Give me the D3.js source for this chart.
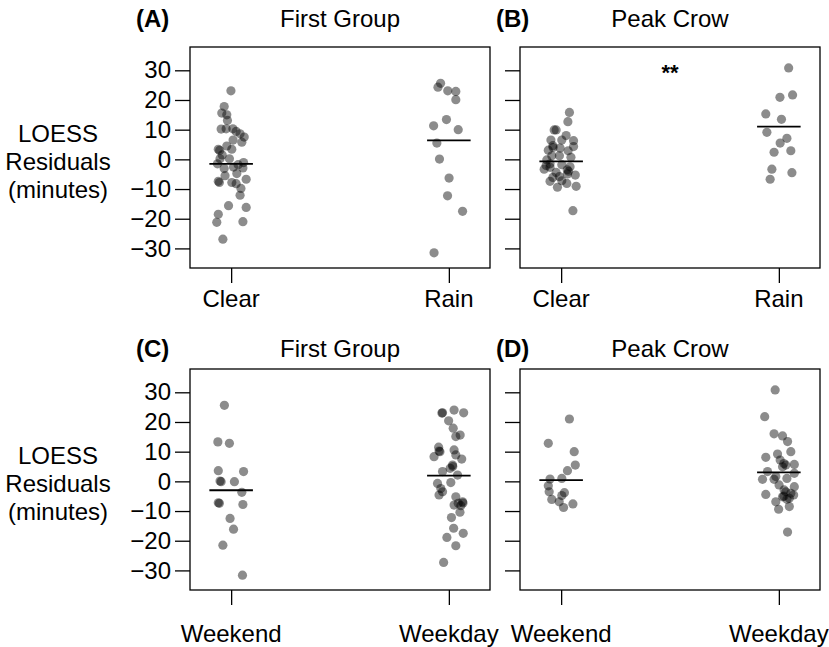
<!DOCTYPE html>
<html><head><meta charset="utf-8">
<script src="https://cdn.jsdelivr.net/npm/d3@7"></script>
<style>body{margin:0;background:#fff}svg{display:block}text{font-family:"Liberation Sans",Arial,Helvetica,sans-serif;fill:#000}</style>
</head><body><svg id="c" width="829" height="647"></svg>
<script>
// ---------- data ----------
const weatherCats = ["Clear", "Rain"];
const dayCats = ["Weekend", "Weekday"];
const yTicks = [-30, -20, -10, 0, 10, 20, 30];
const yLimits = [-36.6, 37.85];
const xLimits = [0.811, 2.189];
const panelLetters = ["(A)", "(B)", "(C)", "(D)"];
const panelTitles = ["First Group", "Peak Crow", "First Group", "Peak Crow"];
const yAxisLabel = ["LOESS", "Residuals", "(minutes)"];
const sigMarks = ["", "**", "", ""];

// Panel A: First Group by weather
const aClearVals = [23.1,17.8,15.6,15.0,13.1,10.3,10.3,9.4,8.6,7.5,5.8,3.4,4.5,3.4,0.2,0.2,-1.5,-3.1,-2.6,-1.1,-2.9,-4.8,-6.7,-7.4,-7.8,-7.8,-8.2,-9.8,-12.1,-15.6,-16.2,-18.5,-21.2,-21.0,-26.9,1.5,-1.8,6.5,-5.5,10.2,3.0];
const aClearJit  = [-0.001,-0.032,-0.043,-0.020,-0.017,-0.023,0.008,0.023,0.041,0.060,0.049,-0.059,-0.020,0.003,-0.051,-0.008,-0.063,-0.032,0.011,0.057,0.054,0.026,0.069,-0.059,-0.054,0.003,0.023,0.045,0.041,-0.012,0.069,-0.059,-0.066,0.054,-0.038,-0.041,0.032,0.009,-0.028,-0.046,-0.053];
const aRainVals = [25.6,24.3,23.1,22.9,20.1,13.4,11.3,10.0,5.5,0.1,-6.3,-12.3,-17.5,-31.5];
const aRainJit  = [-0.038,-0.050,-0.005,0.032,0.032,-0.011,-0.070,0.043,-0.055,-0.043,0.001,-0.006,0.063,-0.068];
// Panel B: Peak Crow by weather
const bClearVals = [15.8,12.7,9.9,9.9,8.0,6.5,6.5,6.3,4.6,4.3,3.8,3.1,2.9,1.2,1.2,0.7,-0.2,-2.1,-2.7,-1.8,-2.5,-4.0,-4.9,-5.3,-6.1,-5.8,-7.2,-7.4,-8.1,-9.4,-9.1,-17.3,-3.3,-4.4,4.0,-3.5,-1.5];
const bClearJit  = [0.038,0.031,-0.032,-0.023,0.023,0.003,-0.047,0.057,-0.038,0.057,-0.005,-0.059,0.032,-0.043,-0.008,0.045,-0.066,-0.069,-0.051,0.003,0.041,0.034,0.029,0.065,-0.038,-0.008,0.003,-0.051,0.026,-0.017,0.069,0.054,-0.078,-0.023,-0.037,0.028,-0.051];
const bRainVals = [30.8,20.9,21.7,15.3,13.5,9.1,7.1,5.5,2.4,2.9,-3.3,-4.5,-6.7];
const bRainJit  = [0.045,0.005,0.063,-0.060,0.012,-0.055,0.037,0.006,-0.022,0.055,-0.032,0.060,-0.040];
// Panel C: First Group by day type
const cWeekendVals = [25.6,13.3,12.8,3.6,3.3,-0.1,0.1,-0.1,-3.7,-7.4,-7.2,-7.8,-12.5,-16.1,-21.5,-31.6];
const cWeekendJit  = [-0.031,-0.061,-0.008,-0.059,0.057,-0.046,-0.051,0.015,0.049,-0.054,-0.059,0.054,-0.005,0.011,-0.038,0.052];
const cWeekdayVals = [23.1,23.0,24.0,23.1,20.4,17.9,15.6,15.1,11.5,10.2,10.0,10.6,8.3,8.9,7.5,5.5,5.0,4.4,3.3,2.1,-0.7,-0.4,-2.4,-3.5,-4.6,-5.2,-6.9,-7.3,-8.2,-8.0,-7.4,-10.4,-12.2,-17.5,-15.8,-18.9,-21.7,-27.3];
const cWeekdayJit  = [-0.029,-0.032,0.024,0.068,-0.001,0.020,0.052,0.032,-0.047,-0.045,-0.041,0.024,-0.068,0.032,0.059,0.017,0.018,0.006,-0.029,0.040,-0.052,0.009,-0.037,-0.029,-0.045,0.032,0.063,0.065,0.055,0.024,0.043,0.051,0.012,0.066,0.022,-0.009,0.032,-0.024];
// Panel D: Peak Crow by day type
const dWeekendVals = [21.0,12.8,10.0,5.5,3.6,1.0,0.8,-1.5,-3.5,-3.8,-4.8,-6.1,-6.9,-7.6,-8.8];
const dWeekendJit  = [0.038,-0.059,0.060,0.065,0.029,0.003,-0.051,-0.059,-0.055,0.015,0.003,-0.043,-0.009,0.054,0.011];
const dWeekdayVals = [30.8,21.8,16.0,15.3,13.4,10.0,8.1,9.2,7.2,5.5,6.0,5.7,4.9,3.3,2.7,1.6,0.7,0.7,1.0,-1.2,-4.4,-3.5,-4.0,-5.2,-5.0,-5.7,-6.0,-6.9,-4.6,-9.4,-8.5,-17.1,-1.8,-2.9];
const dWeekdayJit  = [-0.017,-0.065,-0.022,0.017,0.040,0.055,-0.060,-0.006,0.006,0.032,0.023,0.071,0.017,-0.052,0.071,-0.014,-0.075,-0.022,0.037,0.001,-0.060,0.032,0.055,0.017,0.023,0.048,0.037,-0.014,0.068,-0.001,0.048,0.040,0.071,0.024];

// group centre lines (as drawn)
const centreA = [-1.5, 6.4];
const centreB = [-0.7, 11.0];
const centreC = [-3.0, 1.9];
const centreD = [0.4, 3.0];

// ---------- build ----------
const panels = [
  {cats: weatherCats, vals:[aClearVals,aRainVals], jit:[aClearJit,aRainJit], centre:centreA, x0:190, y0:47, labels:true, tickLabY:307},
  {cats: weatherCats, vals:[bClearVals,bRainVals], jit:[bClearJit,bRainJit], centre:centreB, x0:520, y0:47, labels:false, tickLabY:307},
  {cats: dayCats, vals:[cWeekendVals,cWeekdayVals], jit:[cWeekendJit,cWeekdayJit], centre:centreC, x0:190, y0:369, labels:true, tickLabY:642},
  {cats: dayCats, vals:[dWeekendVals,dWeekdayVals], jit:[dWeekendJit,dWeekdayJit], centre:centreD, x0:520, y0:369, labels:false, tickLabY:642}
];
const W = 300, H = 221;
const svg = d3.select("#c");
const FS = 24;

panels.forEach((p, i) => {
  const x = d3.scaleLinear().domain(xLimits).range([0, W]);
  const y = d3.scaleLinear().domain(yLimits).range([H, 0]);
  const g = svg.append("g").attr("transform", `translate(${p.x0},${p.y0})`);

  // y axis ticks
  const ya = d3.axisLeft(y).tickValues(yTicks).tickSize(15).tickPadding(4)
    .tickFormat(p.labels ? d3.format("d") : () => "");
  const yg = g.append("g").call(ya);
  yg.select(".domain").remove();
  yg.selectAll(".tick line").attr("stroke", "#000").attr("stroke-width", 1.3);
  yg.selectAll(".tick text").attr("font-size", FS).attr("fill", "#000")
    .attr("font-family", '"Liberation Sans",Arial,sans-serif');

  // x axis ticks
  const xa = d3.axisBottom(x).tickValues([1, 2]).tickSize(15).tickFormat(() => "");
  const xg = g.append("g").attr("transform", `translate(0,${H})`).call(xa);
  xg.select(".domain").remove();
  xg.selectAll(".tick line").attr("stroke", "#000").attr("stroke-width", 1.3);
  p.cats.forEach((c, k) => {
    g.append("text").attr("x", x(k + 1)).attr("y", p.tickLabY - p.y0)
      .attr("text-anchor", "middle").attr("font-size", FS).text(c);
  });

  // points
  p.vals.forEach((arr, k) => {
    g.append("g").selectAll("circle").data(arr).join("circle")
      .attr("cx", (d, j) => x(k + 1 + p.jit[k][j]))
      .attr("cy", d => y(d))
      .attr("r", 4.6)
      .attr("fill", "#000").attr("fill-opacity", 0.45);
  });

  // centre lines
  p.centre.forEach((m, k) => {
    g.append("line").attr("x1", x(k + 1 - 0.1)).attr("x2", x(k + 1 + 0.1))
      .attr("y1", y(m)).attr("y2", y(m)).attr("stroke", "#000").attr("stroke-width", 1.8);
  });

  // box
  g.append("rect").attr("x", 0).attr("y", 0).attr("width", W).attr("height", H)
    .attr("fill", "none").attr("stroke", "#000").attr("stroke-width", 1.3);

  // titles
  const ty = p.y0 - (p.y0 < 100 ? 20 : 12);
  g.append("text").attr("x", p.labels ? -54 : -24).attr("y", ty - p.y0)
    .attr("font-size", FS).attr("font-weight", "bold").text(panelLetters[i]);
  g.append("text").attr("x", W / 2).attr("y", ty - p.y0)
    .attr("text-anchor", "middle").attr("font-size", FS).text(panelTitles[i]);

  if (sigMarks[i]) {
    g.append("text").attr("x", (x(1) + x(2)) / 2).attr("y", 80 - p.y0)
      .attr("text-anchor", "middle").attr("font-size", 22).attr("font-weight", "bold").text(sigMarks[i]);
  }

  if (p.labels) {
    yAxisLabel.forEach((t, k) => {
      g.append("text").attr("x", 58 - p.x0).attr("y", 142 + 28 * k - 47)
        .attr("text-anchor", "middle").attr("font-size", FS).text(t);
    });
  }
});
</script></body></html>
